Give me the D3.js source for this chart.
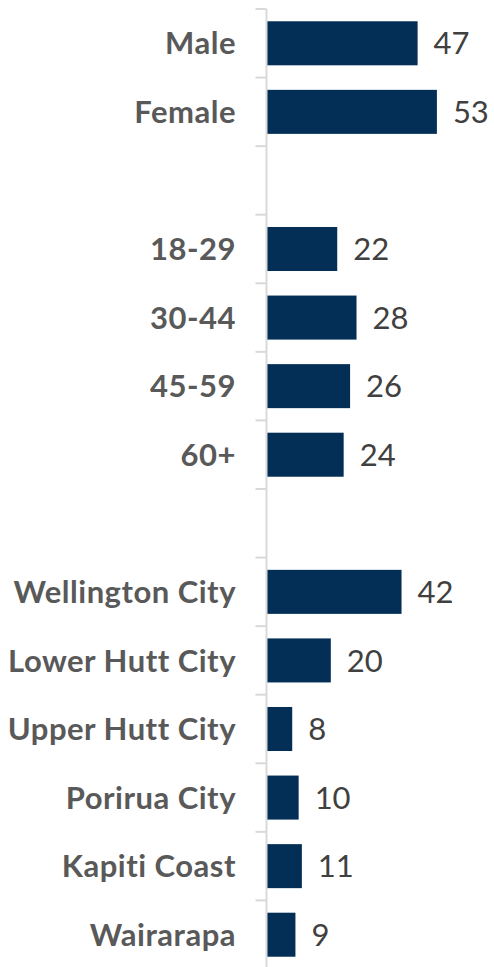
<!DOCTYPE html>
<html>
<head>
<meta charset="utf-8">
<script src="https://cdn.jsdelivr.net/npm/d3@7"></script>
<style>
  html, body { margin: 0; padding: 0; background: #fff; }
  svg { display: block; }
</style>
</head>
<body>
<svg id="chart" width="494" height="967"></svg>
<script>
// Row keys (blank rows separate the three groups)
const categories = [
  "Male", "Female", "gap1",
  "18-29", "30-44", "45-59", "60+", "gap2",
  "Wellington City", "Lower Hutt City", "Upper Hutt City",
  "Porirua City", "Kapiti Coast", "Wairarapa"
];
const values = [47, 53, null, 22, 28, 26, 24, null, 42, 20, 8, 10, 11, 9];
const blankRows = ["gap1", "gap2"];

const svg = d3.select("#chart");
const axisX = 266.5;
const plotTop = 9, plotBottom = 969;
const inner = 0.358;

const y = d3.scaleBand()
  .domain(categories)
  .range([plotTop, plotBottom])
  .paddingInner(inner)
  .paddingOuter(inner / 2);

const x = d3.scaleLinear().domain([0, 53]).range([axisX, axisX + 53 * 3.215]);

const rows = categories.map((c, i) => ({ key: c, value: values[i] }));

// bars
svg.append("g").selectAll("rect")
  .data(rows.filter(d => d.value != null))
  .join("rect")
  .attr("x", x(0))
  .attr("y", d => y(d.key))
  .attr("width", d => x(d.value) - x(0))
  .attr("height", y.bandwidth())
  .attr("fill", "#032E55");

// vertical axis line with ticks at row boundaries
const step = y.step();
const boundaries = d3.range(categories.length + 1).map(i => plotTop + i * step);
const ax = svg.append("g");
ax.append("line")
  .attr("x1", axisX).attr("x2", axisX)
  .attr("y1", plotTop).attr("y2", plotBottom)
  .attr("stroke", "#d9d9d9").attr("stroke-width", 2);
ax.selectAll("line.tick")
  .data(boundaries)
  .join("line")
  .attr("class", "tick")
  .attr("x1", axisX - 11).attr("x2", axisX)
  .attr("y1", d => d).attr("y2", d => d)
  .attr("stroke", "#d9d9d9").attr("stroke-width", 2);

// category labels
const yAxis = d3.axisLeft(y)
  .tickSize(0)
  .tickPadding(0)
  .tickFormat(d => blankRows.includes(d) ? "" : d);
const g = svg.append("g").attr("transform", `translate(236,0)`).call(yAxis);
g.select(".domain").remove();
g.selectAll("text")
  .attr("font-family", "Lato, 'Open Sans', sans-serif")
  .attr("font-weight", "bold")
  .attr("font-size", 31)
  .attr("letter-spacing", 0.5)
  .attr("fill", "#595959")
  .attr("dy", "0.36em");

// value labels
svg.append("g").selectAll("text")
  .data(rows.filter(d => d.value != null))
  .join("text")
  .attr("x", d => x(d.value) + 16)
  .attr("y", d => y(d.key) + y.bandwidth() / 2)
  .attr("dy", "0.36em")
  .attr("font-family", "Lato, 'Open Sans', sans-serif")
  .attr("font-size", 31)
  .attr("fill", "#404040")
  .text(d => d.value);
</script>
</body>
</html>
